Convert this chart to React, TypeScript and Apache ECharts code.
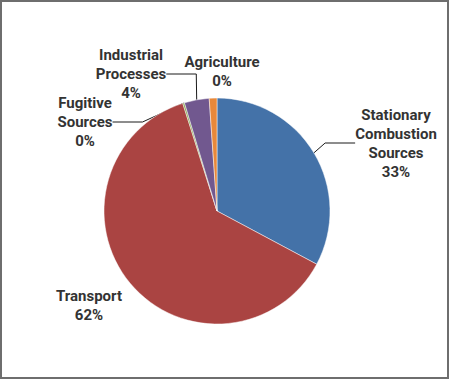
import React, { useEffect, useRef } from "react";
import * as echarts from "echarts";

const categories = [
  "Stationary\nCombustion\nSources",
  "Transport",
  "Fugitive\nSources",
  "Industrial\nProcesses",
  "Agriculture",
];
const values = [32.8, 62.3, 0.25, 3.55, 1.1];
const percentLabels = ["33%", "62%", "0%", "4%", "0%"];
const colors = ["#4472A8", "#AA4442", "#89A54E", "#71588F", "#E8883A"];

// label anchor positions (label layout only)
const labelPos: [number, number][] = [
  [396, 143],
  [89, 305],
  [85, 122],
  [131, 74],
  [222, 71],
];
const showLine = [true, false, true, true, false];

export default function App() {
  const ref = useRef<HTMLDivElement>(null);
  useEffect(() => {
    document.body.style.margin = "0";
    const chart = echarts.init(ref.current!, null, { renderer: "svg" });
    chart.setOption({
      animation: false,
      backgroundColor: "#ffffff",
      graphic: [
        {
          type: "rect",
          shape: { x: 1, y: 1, width: 447, height: 377 },
          style: { fill: "none", stroke: "#6e6e6e", lineWidth: 2 },
          silent: true,
        },
      ],
      series: [
        {
          type: "pie",
          center: [217, 211],
          radius: 113,
          startAngle: 90,
          clockwise: true,
          avoidLabelOverlap: false,
          data: categories.map((name, i) => ({
            name,
            value: values[i],
            itemStyle: { color: colors[i] },
            labelLine: { show: showLine[i] },
          })),
          itemStyle: { borderColor: "rgba(255,255,255,0.6)", borderWidth: 0.8 },
          label: {
            show: true,
            position: "outside",
            formatter: (p: any) => p.name + "\n" + percentLabels[p.dataIndex],
            fontFamily: "Roboto, 'Liberation Sans', Arial, sans-serif",
            fontWeight: "bold",
            fontSize: 15,
            lineHeight: 19,
            color: "#333333",
            align: "center",
          },
          labelLine: {
            show: true,
            lineStyle: { color: "#1a1a1a", width: 1 },
          },
          labelLayout: (params: any) => {
            const [x, y] = labelPos[params.dataIndex];
            return { x, y, align: "center", verticalAlign: "middle" };
          },
        },
      ],
    });
    return () => chart.dispose();
  }, []);
  return <div ref={ref} style={{ width: 450, height: 380 }} />;
}
